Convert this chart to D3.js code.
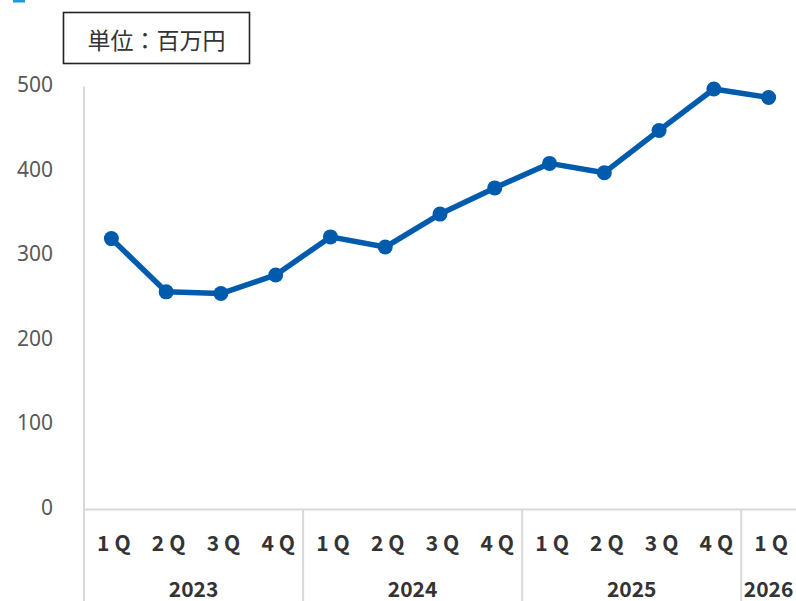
<!DOCTYPE html>
<html><head><meta charset="utf-8">
<script src="https://cdn.jsdelivr.net/npm/d3@7"></script>
<style>
html,body{margin:0;padding:0;background:#fff;}
svg{display:block;font-family:"Noto Sans CJK JP","Noto Sans",sans-serif;}
</style></head>
<body>
<svg id="c" width="796" height="601"></svg>
<script>
const quarters = ["1Q","2Q","3Q","4Q","1Q","2Q","3Q","4Q","1Q","2Q","3Q","4Q","1Q"];
const years = [{label:"2023",start:0,count:4},{label:"2024",start:4,count:4},{label:"2025",start:8,count:4},{label:"2026",start:12,count:1}];
const values = [320, 257, 255, 277, 322, 310, 349, 380, 409, 398, 448, 497, 487];
const yTicks = [0,100,200,300,400,500];
const unitLabel = "単位：百万円";

const svg = d3.select("#c");
const mLeft = 84, mRight = 796, mTop = 86.5, mBottom = 509;
const x = d3.scaleBand().domain(d3.range(values.length)).range([mLeft, mRight]);
const y = d3.scaleLinear().domain([0,500]).range([mBottom, mTop]);

svg.append("rect").attr("x",13).attr("y",0).attr("width",12).attr("height",2.5).attr("fill","#1a9be0");

// unit box
svg.append("rect").attr("x",63.5).attr("y",12.5).attr("width",186).attr("height",51)
  .attr("fill","#fff").attr("stroke","#222").attr("stroke-width",1.6);
svg.append("text").attr("x",156.5).attr("y",38.5).attr("text-anchor","middle").attr("dominant-baseline","central")
  .attr("font-size",23).attr("fill","#333").text(unitLabel);

// y axis
const ya = svg.append("g").attr("transform",`translate(${mLeft},0)`)
  .call(d3.axisLeft(y).tickValues(yTicks).tickSize(0).tickPadding(31));
ya.select(".domain").remove();
ya.selectAll("text").attr("font-size",21).attr("fill","#595959")
  .attr("font-family","'Noto Sans','Noto Sans CJK JP',sans-serif").attr("dy","0.25em");

const grey = "#d9d9d9";
svg.append("line").attr("x1",mLeft).attr("x2",mLeft).attr("y1",mTop).attr("y2",601).attr("stroke",grey).attr("stroke-width",2);
svg.append("line").attr("x1",mLeft).attr("x2",mRight).attr("y1",mBottom+0.5).attr("y2",mBottom+0.5).attr("stroke",grey).attr("stroke-width",2);
years.slice(1).forEach(yr=>{
  const xx = x(yr.start);
  svg.append("line").attr("x1",xx).attr("x2",xx).attr("y1",mBottom).attr("y2",601).attr("stroke",grey).attr("stroke-width",2);
});

// quarter labels
svg.append("g").selectAll("text").data(quarters).join("text")
  .attr("x",(d,i)=>x(i)+x.bandwidth()/2+5).attr("y",551).attr("text-anchor","middle")
  .attr("font-size",21).attr("font-weight","bold").attr("fill","#333").attr("letter-spacing","5px").text(d=>d);

// year labels
svg.append("g").selectAll("text").data(years).join("text")
  .attr("x",d=>(x(d.start)+x(d.start+d.count-1)+x.bandwidth())/2).attr("y",597).attr("text-anchor","middle")
  .attr("font-size",21).attr("font-weight","bold").attr("fill","#333").text(d=>d.label);

// line
const line = d3.line().x((d,i)=>x(i)+x.bandwidth()/2).y(d=>y(d));
svg.append("path").datum(values).attr("d",line).attr("fill","none").attr("stroke","#005bac").attr("stroke-width",5.5).attr("stroke-linejoin","round");
svg.append("g").selectAll("circle").data(values).join("circle")
  .attr("cx",(d,i)=>x(i)+x.bandwidth()/2).attr("cy",d=>y(d)).attr("r",7.5).attr("fill","#005bac");
</script>
</body></html>
